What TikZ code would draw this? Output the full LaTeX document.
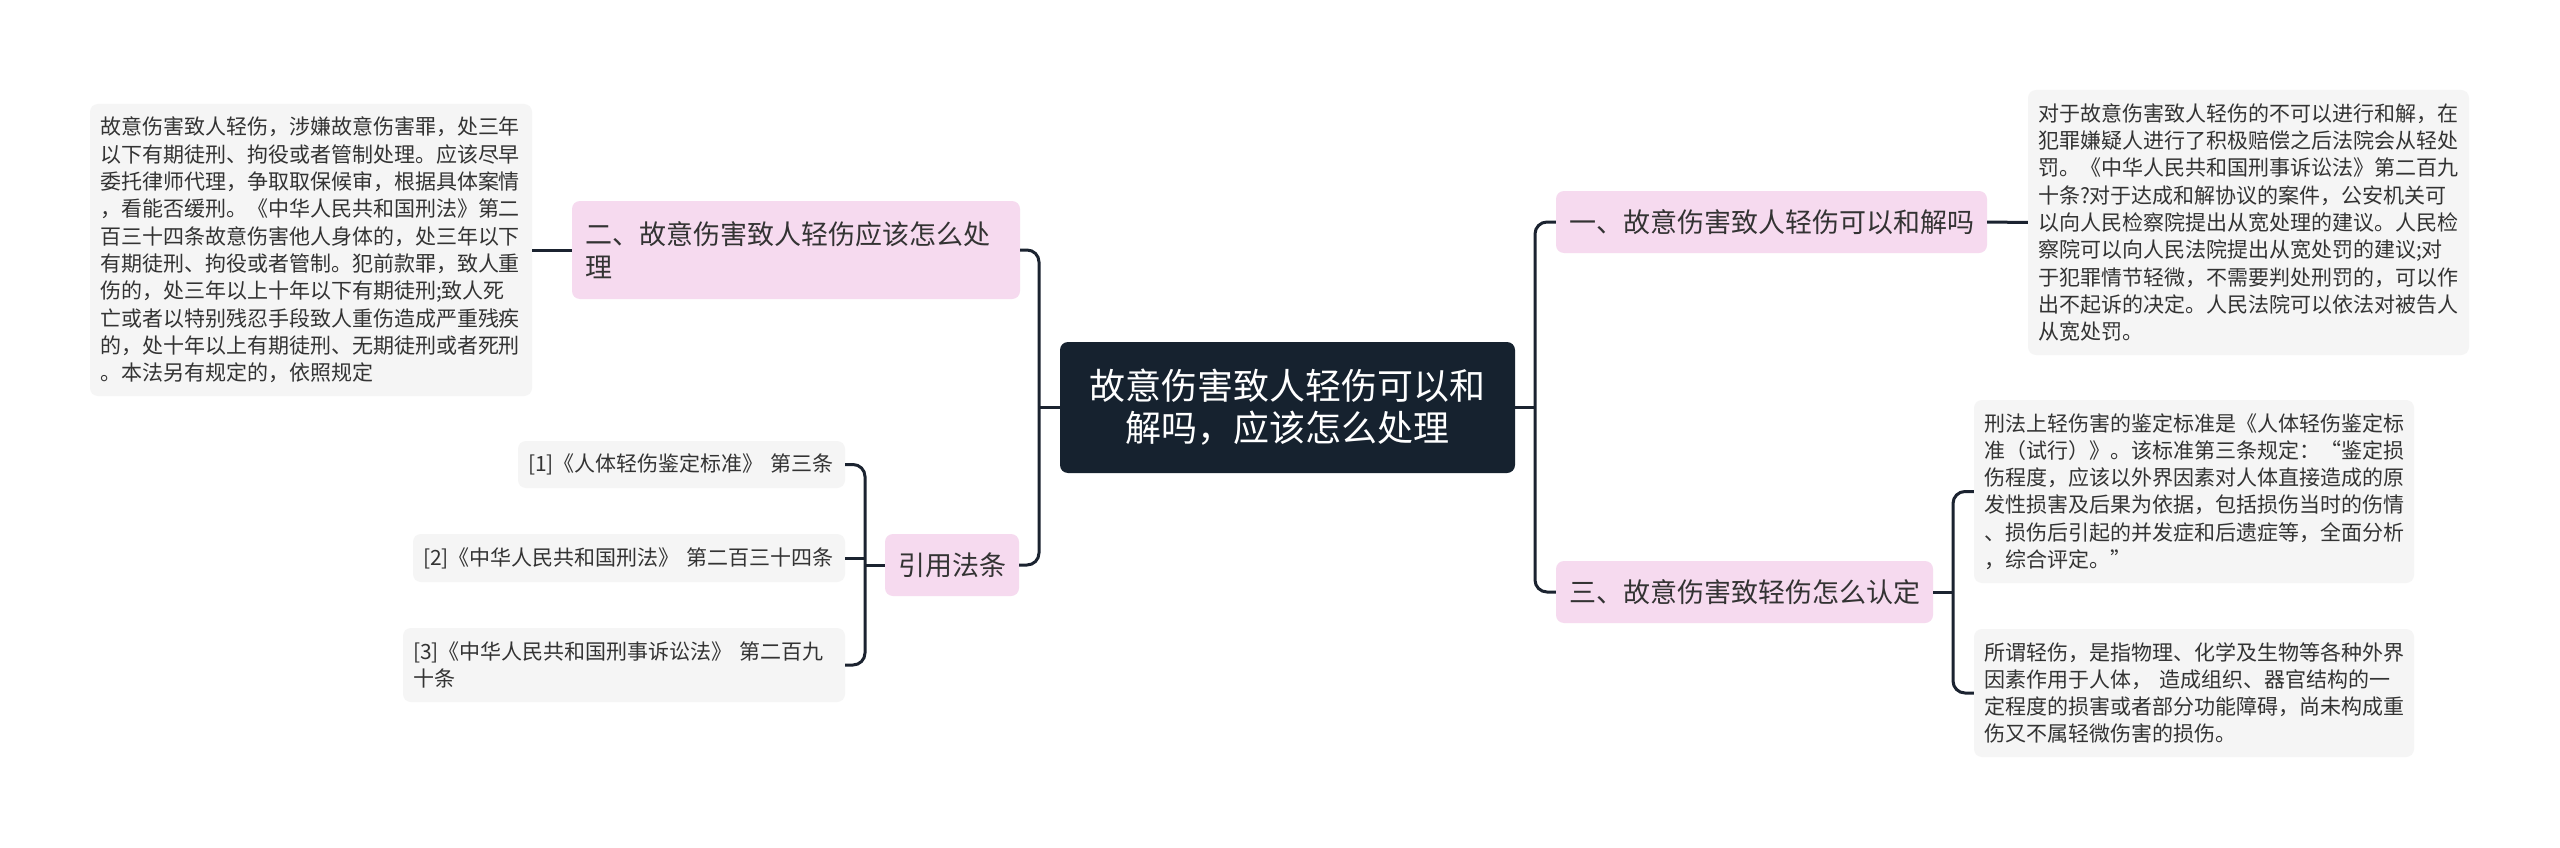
\documentclass[tikz,border=0pt]{standalone}
\usepackage{fontspec}
\setmainfont{Noto Sans CJK SC}
\definecolor{pinkbg}{HTML}{F6DAEF}
\definecolor{greybg}{HTML}{F5F5F5}
\definecolor{navy}{HTML}{16222F}
\definecolor{linec}{HTML}{1B2330}
\definecolor{textc}{HTML}{333333}
\tikzset{
  basebox/.style={rounded corners=8pt, inner ysep=0pt, inner xsep=#1, text=textc, align=left},
  greybox/.style={basebox=10pt, fill=greybg, font=\fontsize{21}{27.3}\selectfont},
  pinkbox/.style={basebox=13pt, fill=pinkbg, font=\fontsize{27}{33}\selectfont},
  rootbox/.style={rounded corners=8pt, inner sep=0pt, fill=navy, text=white, align=center, font=\fontsize{36}{42}\selectfont},
  conn/.style={draw=linec, line width=3pt, rounded corners=12pt}
}
\begin{document}
\begin{tikzpicture}[x=1pt,y=-1pt]
\useasboundingbox[fill=white] (0,0) rectangle (2560,848);

% root
\node[rootbox, minimum width=455pt, minimum height=131pt] (root) at (1287.5,407.5)
  {故意伤害致人轻伤可以和\\解吗，应该怎么处理};

% first level
\node[pinkbox, text width=405pt, minimum height=62pt] (n1) at (1771.5,222) {一、故意伤害致人轻伤可以和解吗};
\node[pinkbox, text width=422pt, minimum height=98pt] (n2) at (796,250) {二、故意伤害致人轻伤应该怎么处\\理};
\node[pinkbox, text width=351pt, minimum height=62pt] (n3) at (1744.5,592) {三、故意伤害致轻伤怎么认定};
\node[pinkbox, text width=108pt, minimum height=62pt] (cite) at (952,565) {引用法条};

% leaves
\node[greybox, text width=422pt, minimum height=292pt] (L) at (311,250)
  {故意伤害致人轻伤，涉嫌故意伤害罪，处三年\\以下有期徒刑、拘役或者管制处理。应该尽早\\委托律师代理，争取取保候审，根据具体案情\\，看能否缓刑。《中华人民共和国刑法》第二\\百三十四条故意伤害他人身体的，处三年以下\\有期徒刑、拘役或者管制。犯前款罪，致人重\\伤的，处三年以上十年以下有期徒刑;致人死\\亡或者以特别残忍手段致人重伤造成严重残疾\\的，处十年以上有期徒刑、无期徒刑或者死刑\\。本法另有规定的，依照规定};

\node[greybox, text width=421pt, minimum height=265pt] (R1) at (2248.5,222.5)
  {对于故意伤害致人轻伤的不可以进行和解，在\\犯罪嫌疑人进行了积极赔偿之后法院会从轻处\\罚。《中华人民共和国刑事诉讼法》第二百九\\十条?对于达成和解协议的案件，公安机关可\\以向人民检察院提出从宽处理的建议。人民检\\察院可以向人民法院提出从宽处罚的建议;对\\于犯罪情节轻微，不需要判处刑罚的，可以作\\出不起诉的决定。人民法院可以依法对被告人\\从宽处罚。};

\node[greybox, text width=420pt, minimum height=183pt] (R2) at (2194,491.5)
  {刑法上轻伤害的鉴定标准是《人体轻伤鉴定标\\准（试行）》。该标准第三条规定：“鉴定损\\伤程度，应该以外界因素对人体直接造成的原\\发性损害及后果为依据，包括损伤当时的伤情\\、损伤后引起的并发症和后遗症等，全面分析\\，综合评定。”};

\node[greybox, text width=420pt, minimum height=128pt] (R3) at (2194,693)
  {所谓轻伤，是指物理、化学及生物等各种外界\\因素作用于人体， 造成组织、器官结构的一\\定程度的损害或者部分功能障碍，尚未构成重\\伤又不属轻微伤害的损伤。};

\node[greybox, text width=307pt, minimum height=47pt] (ref1) at (681.5,464.5) {[1]《人体轻伤鉴定标准》 第三条};
\node[greybox, text width=412pt, minimum height=48pt] (ref2) at (629,558) {[2]《中华人民共和国刑法》 第二百三十四条};
\node[greybox, text width=422pt, minimum height=74pt, font=\fontsize{21}{26.7}\selectfont] (ref3) at (624,665) {[3]《中华人民共和国刑事诉讼法》 第二百九\\十条};

% trunks
\coordinate (lt) at (1039,407.5);
\coordinate (rt) at (1535,407.5);
\coordinate (t3) at (1953,592);
\coordinate (tc) at (865,565);

% connectors
\draw[conn] (root.west) -- (lt);
\draw[conn] (n2.east) -| (lt) |- (cite.east);
\draw[conn] (root.east) -- (rt);
\draw[conn] (n1.west) -| (rt) |- (n3.west);
\draw[conn] (n1.east) -- (R1.west);
\draw[conn] (n2.west) -- (L.east);
\draw[conn] (n3.east) -- (t3);
\draw[conn] (R2.west) -| (t3) |- (R3.west);
\draw[conn] (cite.west) -- (tc);
\draw[conn] (ref1.east) -| (tc) |- (ref3.east);
\draw[conn] (ref2.east) -- (ref2.east -| tc);
\end{tikzpicture}
\end{document}
